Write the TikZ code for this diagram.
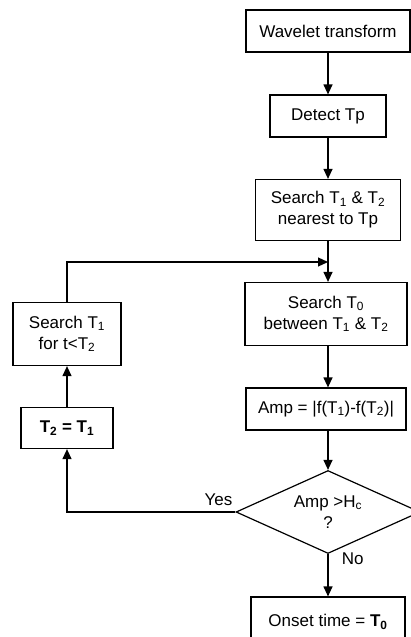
\documentclass[tikz,border=0pt]{standalone}
\usepackage{fontspec}
\setmainfont{Liberation Sans}
\usetikzlibrary{arrows,arrows.meta,shapes.geometric,positioning}

\begin{document}
\begin{tikzpicture}[x=1pt,y=-1pt,line width=1.2pt,>={Triangle[length=10pt,width=9pt]},
    font=\fontsize{17}{21}\selectfont,
    main/.style = {draw, rectangle, align=center, inner sep=2pt},
    cond/.style = {draw, diamond, aspect=2.2, inner sep=0pt, align=center,
      minimum width=184pt, minimum height=83pt}]
      \useasboundingbox (0,0) rectangle (411,637);
      \clip (0,0) rectangle (411,637);
      \node[main, minimum width=164pt, minimum height=42pt] at (328,31) (1) {Wavelet transform};
      \node[main, minimum width=116pt, minimum height=42pt] at (328,116) (2) {Detect Tp};
      \node[main, minimum width=145pt, minimum height=61pt] at (328,210) (3) {Search T\textsubscript{1} \& T\textsubscript{2}\\nearest to Tp};
      \node[main, minimum width=162pt, minimum height=63pt] at (326,314) (4) {Search T\textsubscript{0}\\between T\textsubscript{1} \& T\textsubscript{2}};
      \node[main, minimum width=160pt, minimum height=42pt] at (326,409) (5) {Amp = |f(T\textsubscript{1})-f(T\textsubscript{2})|};
      \node[cond] at (328,512) (6) {Amp >H\textsubscript{c}\\?};
      \node[main, minimum width=154pt, minimum height=50pt] at (328,622) (7) {Onset time = \textbf{T\textsubscript{0}}};
      \node[main, minimum width=108pt, minimum height=63pt] at (67,334) (8) {Search T\textsubscript{1}\\for t<T\textsubscript{2}};
      \node[main, minimum width=92pt, minimum height=41pt] at (67,428) (9) {\textbf{T\textsubscript{2} = T\textsubscript{1}}};
      \coordinate (j) at (328,262);

      \path[->]
      (1) edge (2)
      (2) edge (3)
      (3) edge (3 |- 4.north)
      (5.south -| 6) edge (6)
      (6) edge node[pos=0.12, right, xshift=10pt]{No} (7)
      (9) edge (8)
      ;
      \draw[->] (4.south -| 6) -- (5.north -| 6);
      \draw[->] (6.west) -| node[pos=0.05, above, yshift=2pt]{Yes} (9);
      \draw[->] (8) |- (j);
    \end{tikzpicture}
\end{document}
